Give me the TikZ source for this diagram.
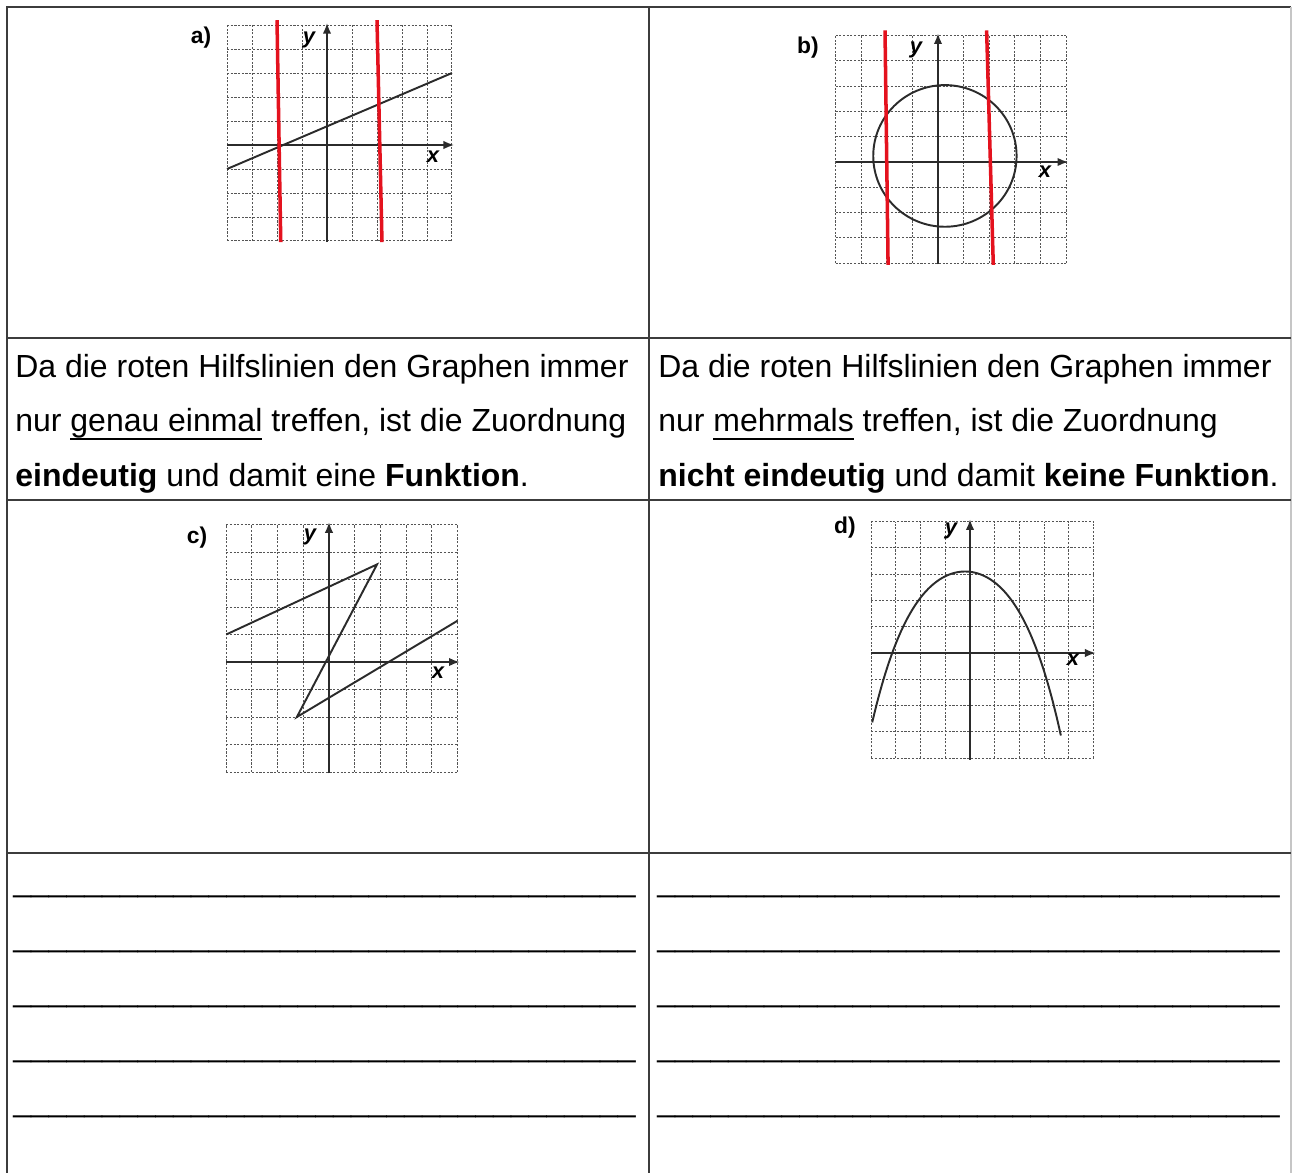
\documentclass[tikz,border=0pt]{standalone}
\usepackage{fontspec}
\setmainfont{Liberation Sans}
\usepackage{tikz}
\usetikzlibrary{arrows.meta}
\definecolor{hilfRed}{RGB}{228,18,30}
\definecolor{scanInk}{HTML}{2B2B2B}
\definecolor{gridInk}{HTML}{555555}
\definecolor{ruleGray}{HTML}{3C3C3C}

% underlined word, rule a little below the baseline
\newcommand{\unterstr}[1]{\setbox0\hbox{#1}\rlap{\rule[-0.26em]{\wd0}{0.055em}}\box0\relax}

% dotted grid from -4 to 5 with both axes
\newcommand{\koordgitter}{%
  \foreach \i in {-4,...,5} {
    \draw[gitter] (\i,-4) -- (\i,5);
    \draw[gitter] (-4,\i) -- (5,\i);
  }
  \draw[achse] (-4,0) -- (5.1,0);
  \draw[achse] (0,-4.05) -- (0,5.1);
}

\begin{document}
\begin{tikzpicture}[x=0.02cm,y=-0.02cm,>={Latex[length=2.2mm,width=1.7mm]},
  font=\fontsize{18.2pt}{22pt}\selectfont,
  tabline/.style={draw=ruleGray,line width=0.9pt},
  gitter/.style={draw=gridInk,line width=0.55pt,dash pattern=on 1.2pt off 0.9pt},
  achse/.style={draw=scanInk,line width=1.3pt,->},
  graph/.style={draw=scanInk,line width=1.1pt},
  hilfslinie/.style={draw=hilfRed,line width=2pt},
  zeile/.style={anchor=base west,inner sep=0pt},
  teil/.style={font=\fontsize{13pt}{15pt}\selectfont\bfseries,inner sep=0pt},
  achsname/.style={font=\fontsize{12.5pt}{14pt}\selectfont\bfseries\itshape,inner sep=0pt}
]
  \useasboundingbox (0,0) rectangle (1292,1173);

  % table
  \draw[tabline] (7,1173) -- (7,7) -- (1291,7);
  \draw[tabline,draw=gray!45] (1291,7) -- (1291,1173);
  \draw[tabline] (649,7) -- (649,1173);
  \draw[tabline] (7,338) -- (1291,338);
  \draw[tabline] (7,500) -- (1291,500);
  \draw[tabline] (7,853) -- (1291,853);

  % a) straight line
  \begin{scope}[shift={(327,145)},x=0.5cm,y=0.48cm]
    \koordgitter
    \draw[graph] (-4,-1) -- (5,3);
    \draw[hilfslinie] (-2,5.2) -- (-1.85,-4.05);
    \draw[hilfslinie] (2,5.2) -- (2.2,-4.05);
  \end{scope}
  \node[teil] (labA) at (201,38) {a)};
  \node[achsname] (yA) at (309,40) {y};
  \node[achsname] (xA) at (433,157) {x};

  % b) circle
  \begin{scope}[shift={(938,162)},x=0.512cm,y=0.506cm]
    \koordgitter
    \draw[graph] (0.27,0.24) circle [radius=2.8];
    \draw[hilfslinie] (-2.07,5.2) -- (-1.95,-4.07);
    \draw[hilfslinie] (1.9,5.2) -- (2.16,-4.07);
  \end{scope}
  \node[teil] (labB) at (808,48) {b)};
  \node[achsname] (yB) at (916,50) {y};
  \node[achsname] (xB) at (1045,172) {x};

  % c) zigzag
  \begin{scope}[shift={(329,662)},x=0.514cm,y=0.55cm]
    \koordgitter
    \draw[graph] (-4,1) -- (1.87,3.55) -- (-1.25,-2) -- (5,1.5);
  \end{scope}
  \node[teil] (labC) at (197,538) {c)};
  \node[achsname] (yC) at (310,537) {y};
  \node[achsname] (xC) at (438,673) {x};

  % d) parabola
  \begin{scope}[shift={(970,653)},x=0.494cm,y=0.526cm]
    \koordgitter
    \draw[graph] plot[domain=-3.76:3.88,samples=60,smooth]
      ({\x-0.2},{3.1-0.2766*(\x)^2-0.00916*(\x)^4});
  \end{scope}
  \node[teil] (labD) at (845,528) {d)};
  \node[achsname] (yD) at (951,531) {y};
  \node[achsname] (xD) at (1073,660) {x};

  % answers
  \node[zeile] (antA1) at (15,377) {Da die roten Hilfslinien den Graphen immer};
  \node[zeile] (antA2) at (15,431.5) {nur \unterstr{genau einmal} treffen, ist die Zuordnung};
  \node[zeile] (antA3) at (15,486) {\textbf{eindeutig} und damit eine \textbf{Funktion}.};
  \node[zeile] (antB1) at (658,377) {Da die roten Hilfslinien den Graphen immer};
  \node[zeile] (antB2) at (658,431.5) {nur \unterstr{mehrmals} treffen, ist die Zuordnung};
  \node[zeile] (antB3) at (658,486) {\textbf{nicht eindeutig} und damit \textbf{keine Funktion}.};

  % blank lines to write on
  \foreach \r in {0,...,4} {
    \node[zeile] (leerL\r) at (13,{891+55*\r}) {\foreach \i in {1,...,35}{\_}};
    \node[zeile] (leerR\r) at (657,{891+55*\r}) {\foreach \i in {1,...,35}{\_}};
  }
\end{tikzpicture}
\end{document}
